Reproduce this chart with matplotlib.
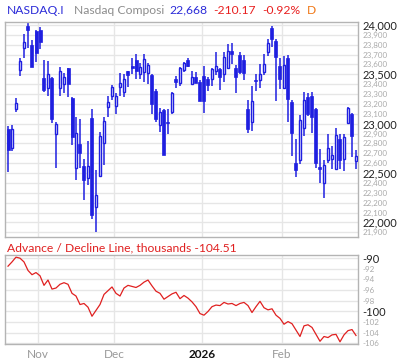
import numpy as np
import pandas as pd
import matplotlib
matplotlib.use("Agg")
import matplotlib.pyplot as plt

plt.rcParams['font.family'] = ['Lato', 'DejaVu Sans']

# trading days 22 Oct 2025 .. 27 Feb 2026 #
holidays = ['2025-11-27', '2025-12-25', '2026-01-01', '2026-01-19', '2026-02-16']
month_labels = ['Nov', 'Dec', '2026', 'Feb']

opens = [22946, 22750, 23145, 23541, 23764, 23990, 23797, 23939, 23949, 23460,
         23358, 23460, 22892, 23358, 23405, 23561, 23257, 22547, 22794, 22571,
         22453, 23058, 22159, 22473, 22801, 23166, 23284, 23179, 23375, 23318,
         23534, 23581, 23642, 23500, 23527, 23510, 23493, 23331, 22983, 23139,
         23014, 23122, 23453, 23409, 23544, 23642, 23405, 23470, 23419, 23483,
         23449, 23449, 23537, 23551, 23500, 23568, 23733, 23564, 23696, 23645,
         23149, 23014, 23443, 23439, 23527, 23730, 23966, 23834, 23585, 23365,
         23662, 23220, 22598, 22629, 22953, 23270, 23281, 23149, 22561, 22395,
         22629, 22639, 22537, 22845, 22639, 23003, 23098, 22622]
highs = [22973, 22983, 23257, 23662, 23909, 24017, 23848, 23949, 23976, 23645,
         23635, 23470, 23017, 23574, 23510, 23561, 23267, 23071, 23051, 22642,
         22825, 23149, 22531, 22912, 23068, 23281, 23392, 23307, 23517, 23503,
         23534, 23669, 23706, 23618, 23706, 23612, 23500, 23351, 23162, 23149,
         23145, 23321, 23483, 23578, 23628, 23666, 23537, 23524, 23443, 23585,
         23470, 23568, 23723, 23568, 23723, 23807, 23818, 23595, 23723, 23696,
         23240, 23382, 23503, 23608, 23706, 23858, 23990, 23855, 23669, 23686,
         23696, 23240, 22845, 23088, 23324, 23314, 23321, 23162, 22743, 22632,
         22892, 22774, 22952, 22892, 22895, 23166, 23105, 22733]
lows = [22514, 22727, 23122, 23487, 23669, 23764, 23578, 23628, 23760, 23324,
        23281, 23010, 22554, 23281, 23314, 23274, 22787, 22433, 22554, 22230,
        22382, 22034, 21899, 22473, 22585, 23071, 23240, 23098, 23281, 23267,
        23375, 23503, 23449, 23449, 23426, 23402, 23095, 23014, 22919, 22686,
        22895, 23095, 23358, 23378, 23527, 23578, 23395, 23409, 23233, 23112,
        23328, 23385, 23497, 23345, 23426, 23554, 23608, 23308, 23500, 23443,
        22909, 22922, 23335, 23365, 23490, 23686, 23774, 23233, 23348, 23348,
        23020, 22676, 22456, 22588, 22878, 23081, 22902, 22547, 22402, 22250,
        22598, 22544, 22537, 22544, 22524, 23003, 22666, 22537]
closes = [22737, 22946, 23206, 23632, 23824, 23953, 23578, 23720, 23831, 23341,
          23500, 23051, 23000, 23534, 23470, 23405, 22868, 22902, 22706, 22433,
          22571, 22078, 22277, 22875, 23027, 23220, 23368, 23277, 23409, 23449,
          23497, 23568, 23534, 23571, 23652, 23591, 23196, 23051, 23115, 22686,
          23004, 23311, 23426, 23561, 23612, 23588, 23470, 23416, 23233, 23233,
          23395, 23551, 23581, 23477, 23672, 23733, 23709, 23470, 23520, 23510,
          22949, 23230, 23436, 23503, 23605, 23814, 23855, 23679, 23456, 23595,
          23254, 22902, 22534, 23037, 23240, 23101, 23064, 22598, 22544, 22581,
          22754, 22683, 22885, 22629, 22868, 23159, 22878, 22668]

# advance / decline line, thousands #
ad_line = [-91.5, -90.7, -89.8, -90.0, -90.7, -92.3, -93.1, -92.7, -93.3, -95.1,
           -94.1, -95.8, -95.6, -94.9, -94.6, -94.9, -96.6, -97.1, -98.7, -98.5,
           -99.2, -100.9, -99.8, -98.7, -96.8, -96.1, -95.4, -96.6, -97.1, -95.6,
           -95.1, -95.3, -95.5, -95.1, -94.5, -94.1, -95.2, -96.2, -96.6, -97.7,
           -97.2, -96.7, -96.4, -97.6, -97.0, -97.5, -98.2, -99.1, -100.4, -100.7,
           -100.0, -99.1, -98.8, -98.9, -98.3, -98.6, -98.5, -98.9, -98.5, -98.3,
           -98.9, -100.2, -99.1, -98.1, -99.3, -99.7, -99.5, -100.7, -101.3, -102.4,
           -101.9, -102.3, -103.5, -104.7, -102.7, -102.5, -103.0, -104.3, -105.6, -104.7,
           -104.9, -104.4, -104.3, -105.7, -104.4, -103.6, -103.4, -104.51]

BLUE = '#1f1fe0'
RED = '#e02020'
GRID = '#e6e6e6'
FRAME = '#b4b4b4'

days = pd.bdate_range('2025-10-22', '2026-02-27')
days = days[~days.isin(pd.to_datetime(holidays))]
x = np.arange(len(days))
# first trading day of each month -> boundary half a day before it #
starts = [i for i in range(1, len(days)) if days[i].month != days[i - 1].month]
bounds = [s - 0.5 for s in starts]


def style_axes(ax):
    for s in ax.spines.values():
        s.set_color(FRAME)
        s.set_linewidth(1)
    ax.set_xticks(bounds)
    ax.grid(True, color=GRID, linewidth=1)
    ax.set_axisbelow(True)
    ax.yaxis.tick_right()
    ax.tick_params(length=0, pad=3)
    ax.set_xlim(-0.75, len(days) - 0.5)


def color_labels(ax, major):
    for lab, v in zip(ax.get_yticklabels(), ax.get_yticks()):
        if round(v) % major == 0:
            lab.set_color('#222222')
            lab.set_fontsize(8)
        else:
            lab.set_color('#aaaaaa')
            lab.set_fontsize(5.8)


fig = plt.figure(figsize=(4, 3.62), dpi=100)
ax = fig.add_axes([0.0125, 0.3445, 0.8825, 0.5934])
ax2 = fig.add_axes([0.0125, 0.0506, 0.8825, 0.245])

# candles #
o, h, l, c = map(np.array, (opens, highs, lows, closes))
ax.vlines(x, l, h, color=BLUE, linewidth=1.1, zorder=2)
up = c >= o
body = np.maximum(np.abs(c - o), 3)
ax.bar(x[up], body[up], bottom=np.minimum(o, c)[up], width=0.68,
       facecolor='white', edgecolor=BLUE, linewidth=1.0, zorder=3)
ax.bar(x[~up], body[~up], bottom=np.minimum(o, c)[~up], width=0.75,
       facecolor=BLUE, edgecolor=BLUE, linewidth=0.5, zorder=3)

style_axes(ax)
ax.set_xticklabels([])
ax.set_ylim(21849, 24025)
yt = np.arange(21900, 24001, 100)
ax.set_yticks(yt)
ax.set_yticklabels(['{:,}'.format(v) for v in yt])
color_labels(ax, 500)

# a/d line #
ax2.plot(x, ad_line, color=RED, linewidth=0.9)
style_axes(ax2)
ax2.set_ylim(-106.05, -89.4)
yt2 = np.arange(-106, -89, 2)
ax2.set_yticks(yt2)
ax2.set_yticklabels([str(v) for v in yt2])
color_labels(ax2, 10)
ax2.set_xticklabels(month_labels, fontsize=8.5)
ax2.tick_params(axis='x', pad=4)
for lab in ax2.get_xticklabels():
    if lab.get_text().isdigit():
        lab.set_color('#111111')
        lab.set_fontweight('bold')
    else:
        lab.set_color('#999999')

# header #
hy = 1 - 10 / 362
head = [(7, 'NASDAQ.I', '#2b2bd8'), (74, 'Nasdaq Composi', '#8c8c8c'),
        (169, '22,668', '#2b2bd8'), (213, '-210.17', '#e82020'),
        (262, '-0.92%', '#e82020'), (307, 'D', '#f07818')]
for px, txt, col in head:
    fig.text(px / 400, hy, txt, color=col, fontsize=8.7, va='center', ha='left')

fig.text(7 / 400, 1 - 248 / 362, 'Advance / Decline Line, thousands -104.51',
         color='#e02020', fontsize=8.7, va='center', ha='left')

fig.savefig('out.png', dpi=100)
